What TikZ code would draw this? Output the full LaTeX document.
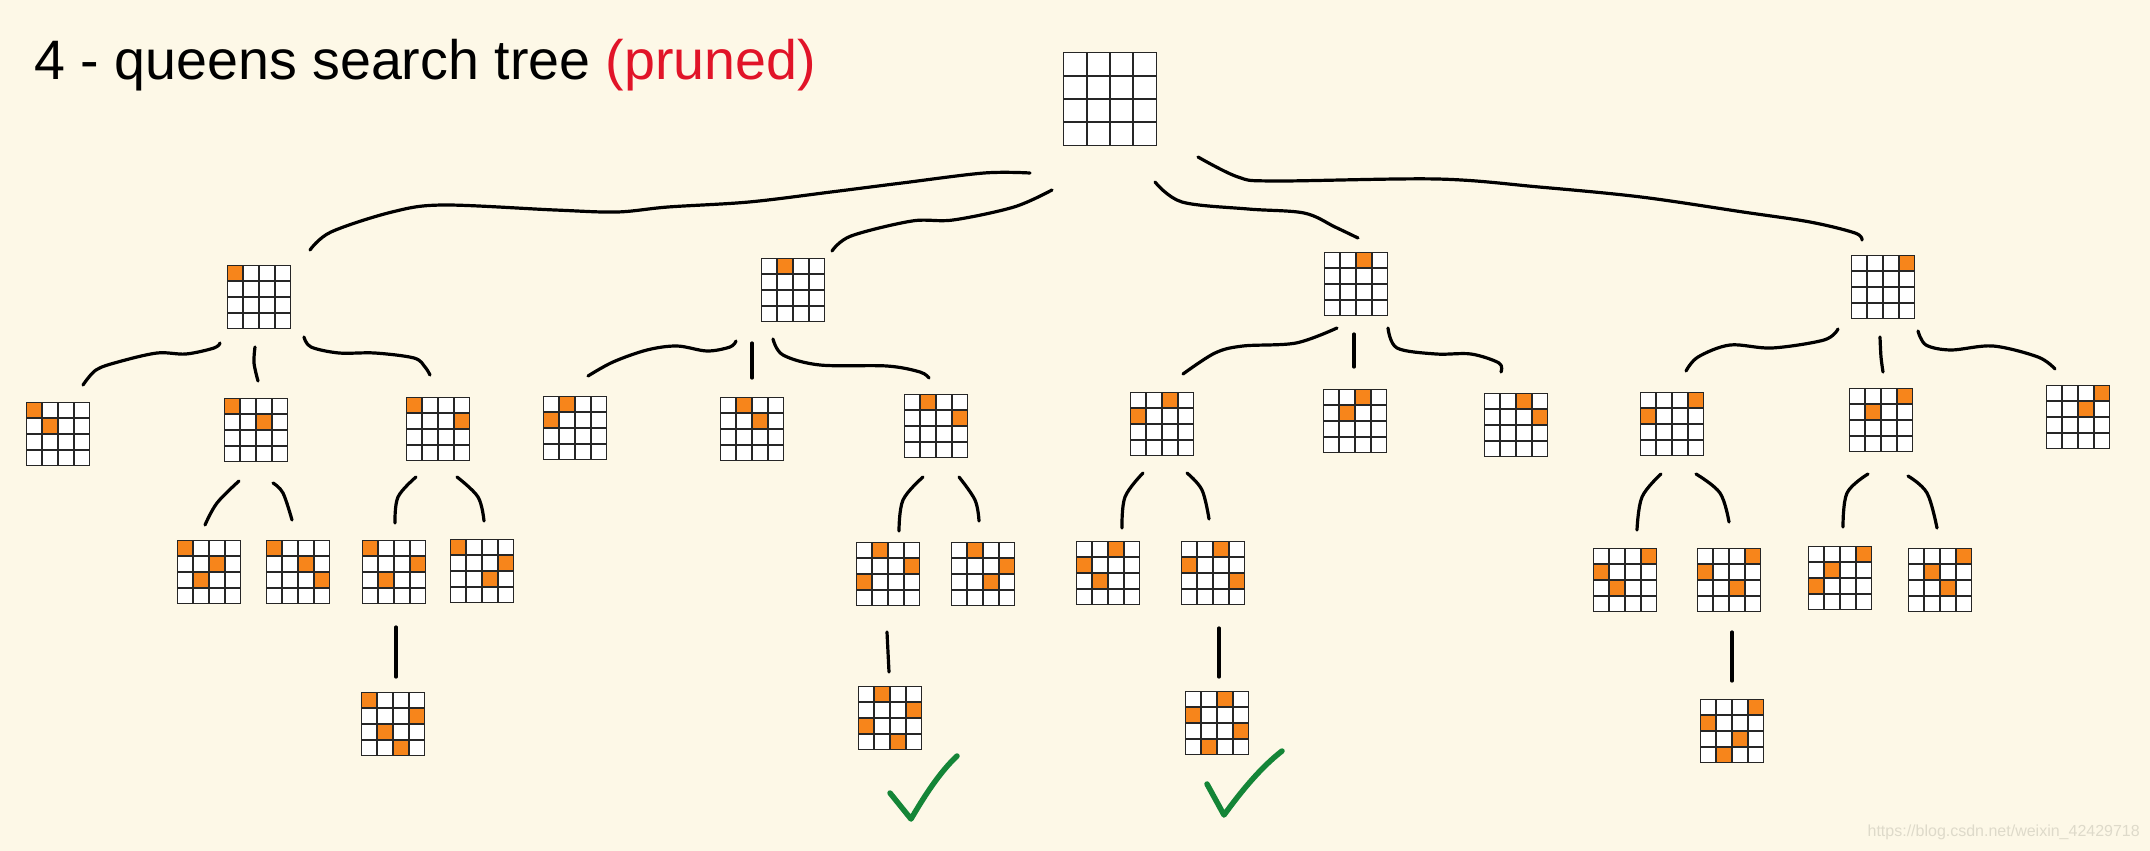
\documentclass[tikz,border=0pt]{standalone}
\usepackage{fontspec}
\setmainfont{Liberation Sans}
\usetikzlibrary{calc}
\definecolor{bgcol}{RGB}{253,248,231}
\definecolor{queencol}{RGB}{247,133,27}
\definecolor{checkcol}{RGB}{20,133,55}
\definecolor{titlered}{RGB}{225,20,40}
\definecolor{wmcol}{RGB}{222,218,202}
\tikzset{
 board/.style={draw=none, fill=white, minimum size=63pt, inner sep=0pt, outer sep=0pt},
 gridline/.style={line width=1.7pt, draw=black!85},
 queen/.style={fill=queencol},
 edge/.style={line width=3.2pt, black, line cap=round, line join=round},
 checkmark/.style={line width=5.5pt, checkcol, line cap=round, line join=round},
}
\newcommand\qgrid[2]{%
 \foreach \qi in {1,2,3}{%
  \draw[gridline] ($(#1.north west)+({\qi*#2/4},0)$) -- +(0,#2);
  \draw[gridline] ($(#1.north west)+(0,{\qi*#2/4})$) -- +(#2,0);
 }%
 \draw[gridline] (#1.north west) rectangle (#1.south east);
}
\newcommand\qb[5][63]{%
 \node[board, minimum size=#1pt] (#2) at (#3,#4) {};
 \foreach \qc [count=\qr] in {#5}{%
   \fill[queen] ($(#2.north west)+({(\qc-1)*#1/4},{(\qr-1)*#1/4})$) rectangle +({#1/4},{#1/4});
 }%
 \qgrid{#2}{#1}%
}
\begin{document}
\begin{tikzpicture}[x=1pt,y=-1pt]
\useasboundingbox (0,0) rectangle (2150,851);
\fill[bgcol] (0,0) rectangle (2150,851);

% title
\node[anchor=base west, inner sep=0pt, font=\fontsize{55.6}{60}\selectfont] (title) at (34,80)
  {4 - queens search tree \textcolor{titlered}{(pruned)}};

% boards
\node[board, minimum size=93pt] (root) at (1110,99) {};
\qgrid{root}{93}
\qb{a}{259}{297}{1}
\qb{b}{793}{290}{2}
\qb{c}{1356}{284}{3}
\qb{d}{1883}{287}{4}
\qb{a2}{58}{434}{1,2}
\qb{a3}{256}{430}{1,3}
\qb{a4}{438}{429}{1,4}
\qb{b1}{575}{428}{2,1}
\qb{b3}{752}{429}{2,3}
\qb{b4}{936}{426}{2,4}
\qb{c1}{1162}{424}{3,1}
\qb{c2}{1355}{421}{3,2}
\qb{c4}{1516}{425}{3,4}
\qb{d1}{1672}{424}{4,1}
\qb{d2}{1881}{420}{4,2}
\qb{d3}{2078}{417}{4,3}
\qb{a32}{209}{572}{1,3,2}
\qb{a34}{298}{572}{1,3,4}
\qb{a42}{394}{572}{1,4,2}
\qb{a43}{482}{571}{1,4,3}
\qb{a423}{393}{724}{1,4,2,3}
\qb{b41}{888}{574}{2,4,1}
\qb{b43}{983}{574}{2,4,3}
\qb{b413}{890}{718}{2,4,1,3}
\qb{c12}{1108}{573}{3,1,2}
\qb{c14}{1213}{573}{3,1,4}
\qb{c142}{1217}{723}{3,1,4,2}
\qb{d12}{1625}{580}{4,1,2}
\qb{d13}{1729}{580}{4,1,3}
\qb{d132}{1732}{731}{4,1,3,2}
\qb{d21}{1840}{578}{4,2,1}
\qb{d23}{1940}{580}{4,2,3}

% root connectors
\draw[edge] plot[smooth, tension=0.55] coordinates {([shift={(-80,74)}]root.center) (984,173) (902,183) (831,192) (749,202) (668,207) (617,212) (555,210) (443,205) (392,212) (331,232) ([shift={(51,-47)}]a.center)};
\draw[edge] plot[smooth, tension=0.55] coordinates {([shift={(-58,91)}]root.center) (1014,207) (953,220) (912,221) (851,236) ([shift={(39,-39)}]b.center)};
\draw[edge] plot[smooth, tension=0.55] coordinates {([shift={(45,83)}]root.center) (1182,202) (1248,209) (1304,213) (1335,227) ([shift={(2,-46)}]c.center)};
\draw[edge] plot[smooth, tension=0.55] coordinates {([shift={(88,58)}]root.center) (1238,177) (1274,181) (1437,179) (1539,187) (1641,197) (1743,212) (1810,222) (1855,233) ([shift={(-21,-47)}]d.center)};

% level 2 connectors
\draw[edge] plot[smooth, tension=0.55] coordinates {([shift={(-39,46)}]a.center) (214,348) (186,354) (157,353) (118,362) (96,370) ([shift={(25,-49)}]a2.center)};
\draw[edge] plot[smooth, tension=0.55] coordinates {([shift={(-4,50)}]a.center) (254,363) ([shift={(2,-49)}]a3.center)};
\draw[edge] plot[smooth, tension=0.55] coordinates {([shift={(45,40)}]a.center) (311,347) (339,353) (375,353) (414,358) (425,367) ([shift={(-8,-54)}]a4.center)};

\draw[edge] plot[smooth, tension=0.55] coordinates {([shift={(-57,51)}]b.center) (730,347) (707,351) (677,346) (647,350) (613,362) ([shift={(13,-52)}]b1.center)};
\draw[edge] ([shift={(-41,53)}]b.center) -- ([shift={(0,-51)}]b3.center);
\draw[edge] plot[smooth, tension=0.55] coordinates {([shift={(-20,49)}]b.center) (783,355) (820,365) (887,366) (920,372) ([shift={(-7,-48)}]b4.center)};

\draw[edge] plot[smooth, tension=0.55] coordinates {([shift={(-19,44)}]c.center) (1296,343) (1243,346) (1215,353) ([shift={(21,-50)}]c1.center)};
\draw[edge] plot[smooth, tension=0.55] coordinates {([shift={(-2,50)}]c.center) (1354,350) ([shift={(-1,-54)}]c2.center)};
\draw[edge] plot[smooth, tension=0.55] coordinates {([shift={(32,44)}]c.center) (1397,348) (1436,354) (1471,354) (1499,363) ([shift={(-15,-53)}]c4.center)};

\draw[edge] plot[smooth, tension=0.55] coordinates {([shift={(-45,42)}]d.center) (1824,340) (1772,348) (1730,345) (1698,357) ([shift={(14,-53)}]d1.center)};
\draw[edge] plot[smooth, tension=0.55] coordinates {([shift={(-3,50)}]d.center) (1881,357) ([shift={(2,-48)}]d2.center)};
\draw[edge] plot[smooth, tension=0.55] coordinates {([shift={(35,44)}]d.center) (1926,345) (1951,350) (1993,346) (2038,357) ([shift={(-23,-48)}]d3.center)};

% level 3 connectors
\draw[edge] plot[smooth, tension=0.6] coordinates {([shift={(-17,51)}]a3.center) (217,503) ([shift={(-4,-47)}]a32.center)};
\draw[edge] plot[smooth, tension=0.6] coordinates {([shift={(17,53)}]a3.center) (283,493) ([shift={(-6,-52)}]a34.center)};
\draw[edge] plot[smooth, tension=0.6] coordinates {([shift={(-22,48)}]a4.center) (398,497) ([shift={(1,-49)}]a42.center)};
\draw[edge] plot[smooth, tension=0.6] coordinates {([shift={(19,48)}]a4.center) (478,497) ([shift={(2,-50)}]a43.center)};
\draw[edge] ([shift={(2,55)}]a42.center) -- ([shift={(3,-47)}]a423.center);

\draw[edge] plot[smooth, tension=0.6] coordinates {([shift={(-13,51)}]b4.center) (903,500) ([shift={(11,-43)}]b41.center)};
\draw[edge] plot[smooth, tension=0.6] coordinates {([shift={(23,51)}]b4.center) (975,500) ([shift={(-4,-53)}]b43.center)};
\draw[edge] ([shift={(-1,58)}]b41.center) -- ([shift={(-1,-46)}]b413.center);

\draw[edge] plot[smooth, tension=0.6] coordinates {([shift={(-19,49)}]c1.center) (1125,497) ([shift={(14,-45)}]c12.center)};
\draw[edge] plot[smooth, tension=0.6] coordinates {([shift={(25,49)}]c1.center) (1202,490) ([shift={(-4,-54)}]c14.center)};
\draw[edge] ([shift={(6,55)}]c14.center) -- ([shift={(2,-46)}]c142.center);

\draw[edge] plot[smooth, tension=0.6] coordinates {([shift={(-11,50)}]d1.center) (1642,497) ([shift={(12,-50)}]d12.center)};
\draw[edge] plot[smooth, tension=0.6] coordinates {([shift={(24,50)}]d1.center) (1720,493) ([shift={(0,-58)}]d13.center)};
\draw[edge] ([shift={(3,52)}]d13.center) -- ([shift={(0,-50)}]d132.center);
\draw[edge] plot[smooth, tension=0.6] coordinates {([shift={(-13,54)}]d2.center) (1847,493) ([shift={(3,-51)}]d21.center)};
\draw[edge] plot[smooth, tension=0.6] coordinates {([shift={(27,56)}]d2.center) (1927,493) ([shift={(-3,-52)}]d23.center)};

% check marks
\draw[checkmark] (890,793) -- (911,819) .. controls (925,795) and (940,772) .. (957,756);
\draw[checkmark] (1207,784) -- (1224,815) .. controls (1240,793) and (1260,768) .. (1282,751);

% watermark
\node[anchor=east, inner sep=0pt, text=wmcol, font=\fontsize{16}{18}\selectfont] (wm) at (2140,832) {https://blog.csdn.net/weixin\_42429718};
\end{tikzpicture}
\end{document}
